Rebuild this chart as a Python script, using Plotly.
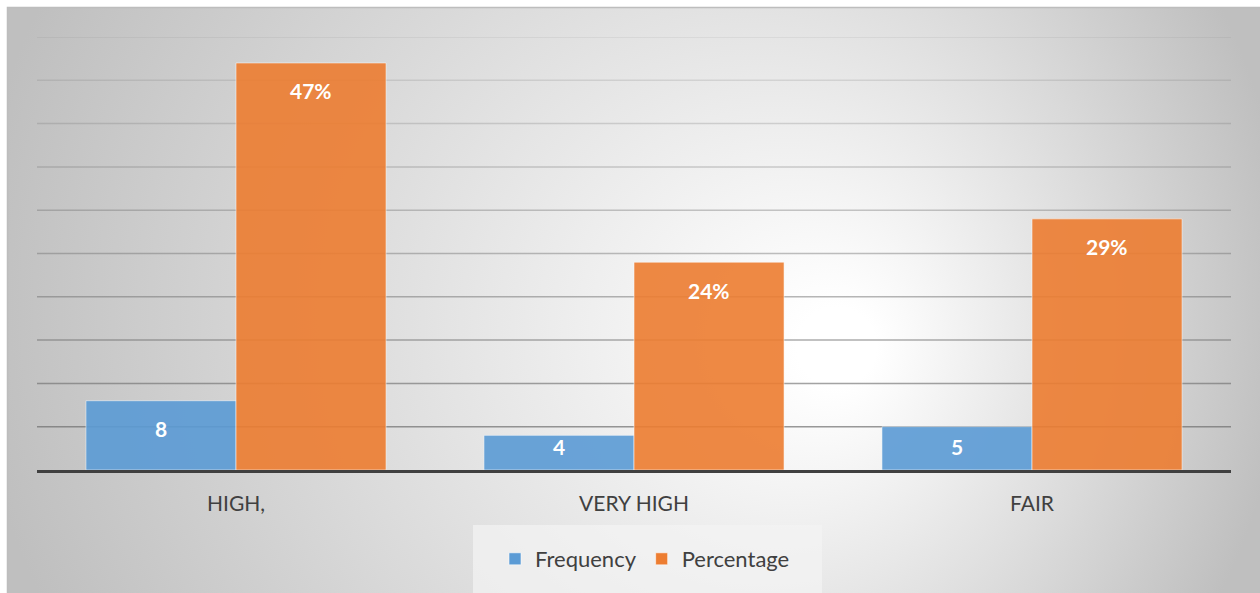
import base64
import plotly.graph_objects as go

# ---- data ----
categories = ["HIGH,", "VERY HIGH", "FAIR"]
frequency = [8, 4, 5]
percentage = [47, 24, 29]

# ---- geometry of the canvas ----
W, H = 1260, 593
M_L, M_R, M_T, M_B = 37, 29, 37, 123
PLOT_W = W - M_L - M_R
PLOT_H = H - M_T - M_B
Y_MAX = 50
Y_STEP = 5

FONT = "Lato"
TEXT_COL = "#404040"
BLUE = "#5B9BD5"
ORANGE = "#ED7D31"

# radial-gradient chart-area background as an inline SVG
svg = f"""<svg xmlns="http://www.w3.org/2000/svg" width="{W}" height="{H}" viewBox="0 0 {W} {H}">
<defs><radialGradient id="g" gradientUnits="userSpaceOnUse" cx="630" cy="300" r="660" fx="850" fy="350">
<stop offset="0" stop-color="#ffffff"/><stop offset="0.06" stop-color="#ffffff"/>
<stop offset="1" stop-color="#bfbfbf"/></radialGradient></defs>
<rect width="{W}" height="{H}" fill="#ffffff"/>
<rect x="7" y="7" width="{W-7}" height="{H-7}" fill="url(#g)"/>
<path d="M7.5,{H} V7.5 H{W}" stroke="#bdbdbd" stroke-width="1.5" fill="none"/>
</svg>"""
bg_uri = "data:image/svg+xml;base64," + base64.b64encode(svg.encode()).decode()


def px_x(p):
    return (p - M_L) / PLOT_W


def px_y(p):
    return (M_T + PLOT_H - p) / PLOT_H


fig = go.Figure()
fig.add_trace(go.Bar(
    name="Frequency", x=categories, y=frequency,
    marker=dict(color=BLUE, opacity=0.9, line=dict(color="rgba(255,255,255,0.55)", width=1)),
    hoverinfo="x+y",
))
fig.add_trace(go.Bar(
    name="Percentage", x=categories, y=percentage,
    marker=dict(color=ORANGE, opacity=0.9, line=dict(color="rgba(255,255,255,0.55)", width=1)),
    hoverinfo="x+y",
))

# horizontal gridlines, fading toward the top
shapes = []
for v in range(Y_STEP, Y_MAX + 1, Y_STEP):
    a = 0.7 - (v - Y_STEP) / (Y_MAX - Y_STEP) * 0.58
    shapes.append(dict(type="line", xref="paper", yref="y", x0=0, x1=1, y0=v, y1=v,
                       line=dict(color=f"rgba(110,110,110,{a:.3f})", width=1.5), layer="below"))
# legend box
shapes.append(dict(type="rect", xref="paper", yref="paper",
                   x0=px_x(473), x1=px_x(822), y0=px_y(H + 2), y1=px_y(525),
                   fillcolor="rgba(244,244,244,0.7)", line=dict(width=0), layer="below"))

# value labels inside the top of each bar
px_per_unit = PLOT_H / Y_MAX
bar_px = PLOT_W / len(categories) * (1 - 0.246) / 2
annotations = []
for series, shift, fmt in ((frequency, -bar_px / 2, "{}"), (percentage, bar_px / 2, "{}%")):
    for cat, v in zip(categories, series):
        off = min(28, v * px_per_unit - 24)
        annotations.append(dict(x=cat, y=v, xref="x", yref="y", text=fmt.format(v),
                                showarrow=False, xshift=shift, yshift=-off,
                                font=dict(family=FONT, size=21, color="white", weight="bold")))

fig.update_layout(
    width=W, height=H,
    margin=dict(l=M_L, r=M_R, t=M_T, b=M_B, pad=0),
    paper_bgcolor="rgba(0,0,0,0)", plot_bgcolor="rgba(0,0,0,0)",
    barmode="group", bargap=0.246, bargroupgap=0,
    font=dict(family=FONT, size=21, color=TEXT_COL),
    images=[dict(source=bg_uri, xref="paper", yref="paper", x=px_x(0), y=px_y(0),
                 sizex=W / PLOT_W, sizey=H / PLOT_H, sizing="stretch",
                 xanchor="left", yanchor="top", layer="below")],
    shapes=shapes,
    annotations=annotations,
    showlegend=True,
    legend=dict(orientation="h", x=px_x(645), xanchor="center", y=px_y(559), yanchor="middle",
                bgcolor="rgba(0,0,0,0)", font=dict(family=FONT, size=22, color=TEXT_COL),
                itemclick=False, traceorder="normal"),
    xaxis=dict(type="category", showgrid=False, showline=True, linecolor="#404040", linewidth=3,
               ticks="", ticklabelstandoff=13, tickfont=dict(family=FONT, size=21, color=TEXT_COL),
               fixedrange=True),
    yaxis=dict(range=[0, Y_MAX], showgrid=False, zeroline=False, showticklabels=False,
               showline=False, fixedrange=True),
)

fig.write_html("out.html")
